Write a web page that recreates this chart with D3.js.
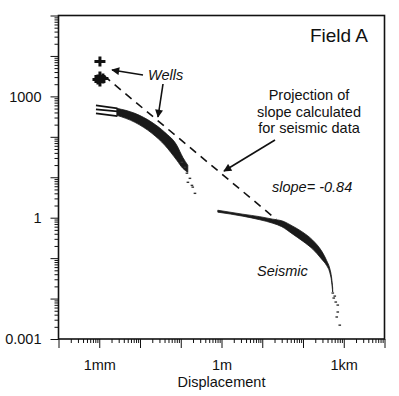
<!DOCTYPE html>
<html>
<head>
<meta charset="utf-8">
<script src="https://cdn.jsdelivr.net/npm/d3@7"></script>
<style>
  body { margin: 0; background: #fff; }
  svg { display: block; font-family: "Liberation Sans", Arial, sans-serif; }
</style>
</head>
<body>
<svg width="399" height="396"></svg>
<script>
// tick labels (only the labelled decades)
const xTickValues = [1e-3, 1, 1e3];
const xTickLabels = ["1mm", "1m", "1km"];
const yTickValues = [1e-3, 1, 1e3];
const yTickLabels = ["0.001", "1", "1000"];

// wells: individual well points (crosses)
const wellX = [0.00104, 0.00104, 0.00104, 0.00123, 0.00093];
const wellY = [7310, 3120, 2345, 2780, 2630];

// wells: three thin lines where the distribution starts
const wellLineX = [0.00083, 0.0028];
const wellLineTop = [600, 506];
const wellLineMid = [477, 426];
const wellLineLow = [380, 325];

// wells: dense band (upper / lower edges)
const wellBandX = [0.0027, 0.0075, 0.0196, 0.0407, 0.080, 0.112, 0.149];
const wellBandUpper = [506, 380, 228, 129, 61.7, 31.2, 19.8];
const wellBandLower = [340, 228, 122, 61.7, 26.3, 16.7, 13.3];

// wells: sparse tail
const wellTailX = [0.106, 0.126, 0.141, 0.167, 0.149, 0.187, 0.196, 0.222];
const wellTailY = [23.4, 17.7, 12.6, 9.4, 7.5, 6.3, 5.7, 4.0];

// seismic: dense band
const seisBandX = [0.811, 3.33, 8.69, 18.1, 30.1, 56.0, 98.4, 173, 287, 381, 451, 505, 535];
const seisBandUpper = [1.53, 1.22, 1.06, 0.92, 0.84, 0.617, 0.438, 0.278, 0.149, 0.0867, 0.0566, 0.0321, 0.0182];
const seisBandLower = [1.37, 1.09, 0.89, 0.73, 0.60, 0.392, 0.263, 0.167, 0.0944, 0.0653, 0.0451, 0.0255, 0.0145];

// seismic: sparse tail
const seisTailX = [535, 599, 565, 633, 709, 709, 669, 794];
const seisTailY = [0.0137, 0.0115, 0.0103, 0.0082, 0.0069, 0.00465, 0.0035, 0.0022];

// projected slope line (slope = -0.84), end points
const slopeX = [0.0013, 22];
const slopeY = [3240, 0.91];

const svg = d3.select("svg");
const mLeft = 58.5, mRight = 384.5, mTop = 15.5, mBottom = 339;

const x = d3.scaleLog().domain([1e-4, 1e4]).range([mLeft, mRight]);
const y = d3.scaleLog().domain([1e-3, 1e5]).range([mBottom, mTop]);

const isDecade = d => Math.abs(Math.log10(d) - Math.round(Math.log10(d))) < 1e-9;
const xAll = x.ticks();
const xMajor = xAll.filter(isDecade);
const xMinor = xAll.filter(d => !isDecade(d));
const yAll = y.ticks();
const yMajor = yAll.filter(isDecade);
const yMinor = yAll.filter(d => !isDecade(d));

const xLabel = d => {
  const i = xTickValues.findIndex(v => Math.abs(Math.log10(v) - Math.log10(d)) < 1e-9);
  return i >= 0 ? xTickLabels[i] : "";
};
const yLabel = d => {
  const i = yTickValues.findIndex(v => Math.abs(Math.log10(v) - Math.log10(d)) < 1e-9);
  return i >= 0 ? yTickLabels[i] : "";
};

// axes
const gx = svg.append("g").attr("transform", `translate(0,${mBottom})`);
gx.append("g").call(d3.axisBottom(x).tickValues(xMinor).tickSize(4).tickFormat("").tickSizeOuter(0));
gx.append("g").call(d3.axisBottom(x).tickValues(xMajor).tickSize(9).tickPadding(12).tickFormat(xLabel).tickSizeOuter(0));

const gy = svg.append("g").attr("transform", `translate(${mLeft},0)`);
gy.append("g").call(d3.axisLeft(y).tickValues(yMinor).tickSize(4).tickFormat("").tickSizeOuter(0));
gy.append("g").call(d3.axisLeft(y).tickValues(yMajor).tickSize(8).tickPadding(9).tickFormat(yLabel).tickSizeOuter(0));

svg.selectAll(".domain").remove();
svg.selectAll(".tick line").attr("stroke", "#111").attr("stroke-width", 1);
svg.selectAll(".tick text").attr("font-size", 14.5).attr("fill", "#111")
  .attr("font-family", "Liberation Sans, Arial, sans-serif");

// frame
svg.append("rect")
  .attr("x", mLeft).attr("y", mTop)
  .attr("width", mRight - mLeft).attr("height", mBottom - mTop)
  .attr("fill", "none").attr("stroke", "#111").attr("stroke-width", 1.6);

// axis title
svg.append("text").attr("x", 221.5).attr("y", 387)
  .attr("text-anchor", "middle").attr("font-size", 14.5).attr("fill", "#111")
  .text("Displacement");

// slope projection
const line = d3.line().x(d => x(d[0])).y(d => y(d[1]));
svg.append("path")
  .attr("d", line(d3.zip(slopeX, slopeY)))
  .attr("fill", "none").attr("stroke", "#111").attr("stroke-width", 1.6)
  .attr("stroke-dasharray", "8,6");

// wells lines
[wellLineTop, wellLineMid, wellLineLow].forEach(ys => {
  svg.append("path")
    .attr("d", line(d3.zip(wellLineX, ys)))
    .attr("fill", "none").attr("stroke", "#111").attr("stroke-width", 1.6);
});

// bands
const band = d3.area()
  .x(d => x(d[0])).y0(d => y(d[2])).y1(d => y(d[1]))
  .curve(d3.curveMonotoneX);
svg.append("path")
  .attr("d", band(d3.zip(wellBandX, wellBandUpper, wellBandLower)))
  .attr("fill", "#1a1a1a").attr("stroke", "#1a1a1a").attr("stroke-width", 0.8);
svg.append("path")
  .attr("d", band(d3.zip(seisBandX, seisBandUpper, seisBandLower)))
  .attr("fill", "#1a1a1a").attr("stroke", "#1a1a1a").attr("stroke-width", 0.8);

// tails
svg.append("g").selectAll("rect")
  .data(d3.zip(wellTailX, wellTailY).concat(d3.zip(seisTailX, seisTailY)))
  .join("rect")
  .attr("x", d => x(d[0]) - 1.2).attr("y", d => y(d[1]) - 0.7)
  .attr("width", 2.6).attr("height", 1.4).attr("fill", "#333");

// well crosses
svg.append("g").selectAll("path")
  .data(d3.zip(wellX, wellY))
  .join("path")
  .attr("transform", d => `translate(${x(d[0])},${y(d[1])})`)
  .attr("d", "M-5.5,0H5.5M0,-5V5")
  .attr("stroke", "#111").attr("stroke-width", 3).attr("fill", "none");

// arrows
svg.append("defs").append("marker")
  .attr("id", "head").attr("viewBox", "0 0 10 10")
  .attr("refX", 9).attr("refY", 5)
  .attr("markerWidth", 10).attr("markerHeight", 8)
  .attr("markerUnits", "userSpaceOnUse")
  .attr("orient", "auto")
  .append("path").attr("d", "M0,0L10,5L0,10Z").attr("fill", "#111");

const arrows = [
  [[143, 75], [112, 70]],
  [[163, 84], [158, 117]],
  [[275, 140], [224, 171]]
];
svg.append("g").selectAll("path")
  .data(arrows)
  .join("path")
  .attr("d", d => `M${d[0][0]},${d[0][1]}L${d[1][0]},${d[1][1]}`)
  .attr("fill", "none")
  .attr("stroke", "#111").attr("stroke-width", 1.6)
  .attr("marker-end", "url(#head)");

// labels
svg.append("text").attr("x", 368).attr("y", 42).attr("text-anchor", "end")
  .attr("font-size", 19).attr("fill", "#111").text("Field A");

const proj = ["Projection of", "slope calculated", "for seismic data"];
svg.append("g").selectAll("text")
  .data(proj)
  .join("text")
  .attr("x", 309).attr("y", (d, i) => 100 + i * 16.5)
  .attr("text-anchor", "middle").attr("font-size", 14.5).attr("fill", "#111")
  .text(d => d);

svg.append("text").attr("x", 148).attr("y", 80)
  .attr("font-size", 14.5).attr("font-style", "italic").attr("fill", "#111").text("Wells");
svg.append("text").attr("x", 272).attr("y", 192)
  .attr("font-size", 14.5).attr("font-style", "italic").attr("fill", "#111").text("slope= -0.84");
svg.append("text").attr("x", 257).attr("y", 276)
  .attr("font-size", 14.5).attr("font-style", "italic").attr("fill", "#111").text("Seismic");
</script>
</body>
</html>
